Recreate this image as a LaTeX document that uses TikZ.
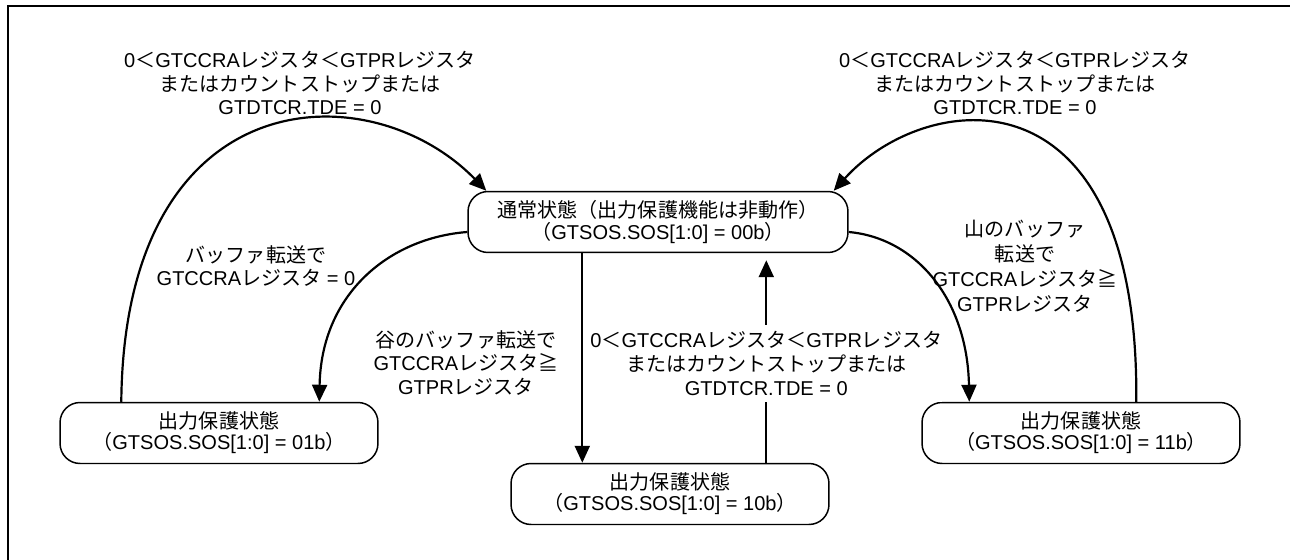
\documentclass[tikz,border=0pt]{standalone}
\usepackage{fontspec}
\setmainfont{Liberation Sans}
\newfontfamily\jpfont{Noto Sans CJK JP}
\newcommand{\jp}[1]{{\jpfont #1}}
\usetikzlibrary{arrows.meta, calc}

\begin{document}
\begin{tikzpicture}[
    x=0.02cm, y=-0.02cm,
    state/.style={rectangle, rounded corners=0.4cm, draw=black, line width=0.85pt, minimum width=6.36cm, minimum height=1.22cm, align=center, inner sep=1pt, font=\fontsize{11.4}{12}\selectfont},
    cond/.style={align=center, inner sep=1pt, font=\fontsize{11.4}{13.4}\selectfont},
    arr/.style={line width=1.25pt, -{Triangle[length=0.34cm, width=0.3cm]}},
    frame/.style={line width=1.5pt}
  ]
    \useasboundingbox (0,0) rectangle (1290,560);

    % --- Frame ---
    \draw[frame] (8,560) -- (8,6) -- (1290,6);

    % --- States ---
    \node[state, minimum width=7.6cm] (normal) at (658,222) {\jp{通常状態（出力保護機能は非動作）}\\\jp{（}GTSOS.SOS[1:0] = 00b\jp{）}};
    \node[state] (prot01) at (219,433) {\jp{出力保護状態}\\\jp{（}GTSOS.SOS[1:0] = 01b\jp{）}};
    \node[state] (prot10) at (670,494) {\jp{出力保護状態}\\\jp{（}GTSOS.SOS[1:0] = 10b\jp{）}};
    \node[state] (prot11) at (1081,433) {\jp{出力保護状態}\\\jp{（}GTSOS.SOS[1:0] = 11b\jp{）}};

    % --- Conditions ---
    \node[cond] (c01) at (300,83) {0\jp{＜}GTCCRA\jp{レジスタ＜}GTPR\jp{レジスタ}\\\jp{またはカウントストップまたは}\\GTDTCR.TDE = 0};
    \node[cond] (c11) at (1015,83) {0\jp{＜}GTCCRA\jp{レジスタ＜}GTPR\jp{レジスタ}\\\jp{またはカウントストップまたは}\\GTDTCR.TDE = 0};
    \node[cond] (b01) at (256,266) {\jp{バッファ転送で}\\GTCCRA\jp{レジスタ} = 0};
    \node[cond] (b10) at (466,363) {\jp{谷のバッファ転送で}\\GTCCRA\jp{レジスタ≧}\\GTPR\jp{レジスタ}};
    \node[cond, font=\fontsize{11.4}{14.2}\selectfont] (b11) at (1025,266) {\jp{山のバッファ}\\\jp{転送で}\\GTCCRA\jp{レジスタ≧}\\GTPR\jp{レジスタ}};

    % --- Straight arrows ---
    \coordinate (up0) at ($(prot10.north west)+(256,0)$);
    \draw[arr, shorten >=0.14cm] (up0) -- (up0 |- normal.south)
      node[cond, pos=0.474, fill=white, inner xsep=0pt, inner ysep=4pt] (c10) {0\jp{＜}GTCCRA\jp{レジスタ＜}GTPR\jp{レジスタ}\\\jp{またはカウントストップまたは}\\GTDTCR.TDE = 0};
    \coordinate (dn0) at ($(normal.south west)+(115,0)$);
    \draw[arr] (dn0) -- (dn0 |- prot10.north);

    % --- Curved arrows ---
    \draw[arr] ($(prot01.north west)+(62,0)$) .. controls +(3,-323) and +(-117,-120) .. ($(normal.north west)+(19,0)$);
    \draw[arr] ($(normal.west)+(0,10)$) .. controls +(-78,6) and +(2,-108) .. ($(prot01.north west)+(260,0)$);
    \draw[arr] ($(normal.east)+(0,10)$) .. controls +(67,6) and +(-2,-103) .. ($(prot11.north west)+(48,0)$);
    \draw[arr] ($(prot11.north west)+(215,0)$) .. controls +(3,-343) and +(90,-100) .. ($(normal.north east)+(-15,0)$);

  \end{tikzpicture}
\end{document}
